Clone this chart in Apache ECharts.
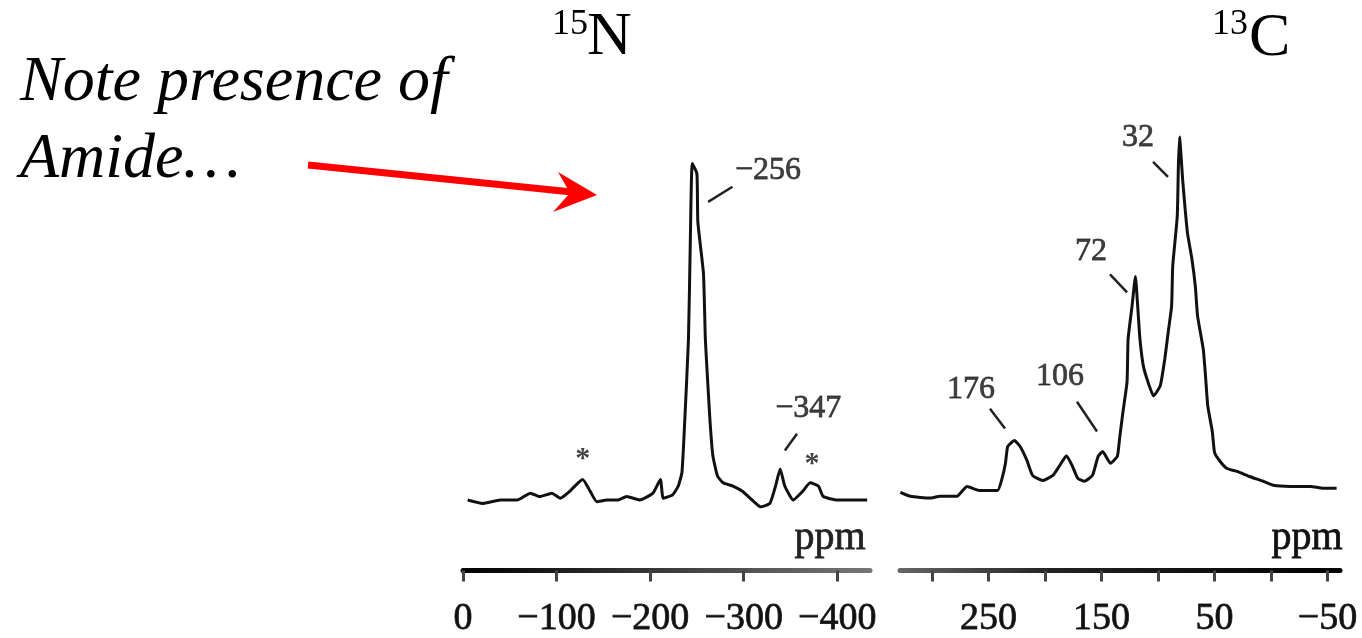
<!DOCTYPE html>
<html>
<head>
<meta charset="utf-8">
<script src="https://cdn.jsdelivr.net/npm/echarts@6/dist/echarts.min.js"></script>
<style>
html,body{margin:0;padding:0;background:#fff;}
#main{width:1362px;height:638px;}
</style>
</head>
<body>
<div id="main"></div>
<script>
// 15N spectrum (ppm, relative intensity)
var n15Ppm = [-5,-21,-40,-58,-72,-82,-95,-104,-114,-123,-128,-136,-143,-154,-165,-175,-189,-203,-211,-214,-224,-230,-234,-237,-241,-243,-245,-250,-251,-257,-259,-261,-264,-267,-272,-278,-289,-299,-307,-318,-328,-334,-339,-344,-353,-363,-371,-380,-385,-400,-414,-432];
var n15Int = [1,0,1,1,3,2,3,1.5,3.5,6,7,3.5,0.5,1,1,2,1,3,7,1.5,2.5,5,9,24,48,77,99,96,82,67,48,38,24,14,8,6,5,3.5,1.5,-1,0,5,10,5,1,3.5,6,5,2,1,1,1];
var n15Ticks = [0,-100,-200,-300,-400];

// 13C spectrum
var c13Ppm = [328,319,302,293,278,269,258,242,238,235,233,227,222,216,211,202,193,187,181,176,171,165,158,153,149,142,136,134,131,127.4,126.5,123,120,118,116,113,109,104,98,94,91,88,87,83,82,81,78,74,70,67,65,60,58,56,52,50,45,39,30,19,7,-2,-17,-35,-46,-58];
var c13Int = [1.1,0,-0.5,0,0,2.7,1.6,1.6,4.9,9,13.6,15.2,13.6,9.8,5.7,4.3,5.7,8.4,11.1,8.4,4.9,4.1,5.7,10.9,12.2,9,10.9,15.8,23.1,31.3,42.9,51.9,60,51.9,42.9,35.6,31.3,27.4,30.2,37.5,44.8,51.9,62.8,76.4,90,98.1,85.6,72,64.7,57.3,49.2,40.2,32.9,24.7,17.7,12,9.5,7.6,6.8,5.4,4.1,3,2.7,2.7,2.2,2.2];
var c13Ticks = [300,250,200,150,100,50,0,-50];
var c13TickLabels = [250,150,50,-50];

// peak annotations
var n15LabelText = ['\u2212256','\u2212347'];
var n15LabelPpm = [-326,-369];
var n15LabelInt = [97,27.5];
var n15StarPpm = [-128,-373];
var n15StarInt = [15.4,13.9];
var n15Leaders = [[-262,87.8,-288,92.2],[-344,15.4,-357,20.3]];

var c13LabelText = ['32','72','106','176'];
var c13LabelPpm = [117.7,159.3,186.7,265.5];
var c13LabelInt = [97.8,66.8,32.6,29.1];
var c13Leaders = [[104.4,91.3,91.2,87.2],[142.5,60.6,127.4,55.7],[171.7,25.8,154,17.7],[248.7,23.9,235.4,18.5]];

var serif = '"Liberation Serif", "Times New Roman", serif';

function pairs(xs, ys){
	var out = [];
	for(var i=0;i<xs.length;i++){
		out.push([xs[i], ys[i]]);
	}
	return out;
}

function named(xs, ys, names){
	var out = [];
	for(var i=0;i<xs.length;i++){
		out.push({value:[xs[i], ys[i]], name:names[i]});
	}
	return out;
}

function leaders(arr){
	return arr.map(function(l){
		return [{coord:[l[0], l[1]]}, {coord:[l[2], l[3]]}];
	});
}

function minus(v){
	return String(v).replace('-', '\u2212');
}

function axis(idx, min, max, ticks, labels, grad){
	return {
		gridIndex: idx,
		type: 'value',
		inverse: true,
		min: min,
		max: max,
		position: 'bottom',
		offset: idx == 0 ? 50 : 56,
		axisLine: {onZero: false, lineStyle: {color: grad, width: 5}},
		axisTick: {customValues: ticks, length: 11, lineStyle: {color: '#444', width: 3}},
		axisLabel: {customValues: labels, margin: 29, fontSize: 38, fontFamily: serif, color: '#111',
			textBorderColor: '#333', textBorderWidth: 0.8, formatter: minus},
		splitLine: {show: false}
	};
}

var chart = echarts.init(document.getElementById('main'));

var leftGrad = new echarts.graphic.LinearGradient(0, 0, 1, 0, [{offset:0, color:'#000'}, {offset:1, color:'#777'}]);
var rightGrad = new echarts.graphic.LinearGradient(0, 0, 1, 0, [{offset:0, color:'#666'}, {offset:0.35, color:'#222'}, {offset:1, color:'#000'}]);

var peakLabel = {show: true, position: 'inside', formatter: '{b}', fontSize: 32, fontFamily: serif, color: '#111',
	textBorderColor: '#333', textBorderWidth: 0.8};

var option = {
	animation: false,
	grid: [
		{left: 463, width: 407, top: 160, bottom: 116},
		{left: 900, right: 22, top: 130, bottom: 122}
	],
	xAxis: [
		axis(0, -435, 0, n15Ticks, n15Ticks, leftGrad),
		axis(1, -61, 328.3, c13Ticks, c13TickLabels, rightGrad)
	],
	yAxis: [
		{gridIndex: 0, type: 'value', min: -5, max: 100, show: false},
		{gridIndex: 1, type: 'value', min: -5, max: 100, show: false}
	],
	series: [
		{
			type: 'line', xAxisIndex: 0, yAxisIndex: 0,
			data: pairs(n15Ppm, n15Int),
			showSymbol: false, smooth: 0.15,
			lineStyle: {color: '#111', width: 3},
			markLine: {silent: true, symbol: ['none','none'], label: {show: false},
				lineStyle: {color: '#222', width: 2.5, type: 'solid'}, data: leaders(n15Leaders)}
		},
		{
			type: 'line', xAxisIndex: 1, yAxisIndex: 1,
			data: pairs(c13Ppm, c13Int),
			showSymbol: false, smooth: 0.15,
			lineStyle: {color: '#111', width: 3},
			markLine: {silent: true, symbol: ['none','none'], label: {show: false},
				lineStyle: {color: '#222', width: 2.5, type: 'solid'}, data: leaders(c13Leaders)}
		},
		{
			type: 'scatter', xAxisIndex: 0, yAxisIndex: 0, symbolSize: 1,
			itemStyle: {color: 'rgba(0,0,0,0)'},
			data: named(n15LabelPpm, n15LabelInt, n15LabelText),
			label: peakLabel
		},
		{
			type: 'scatter', xAxisIndex: 0, yAxisIndex: 0, symbolSize: 1,
			itemStyle: {color: 'rgba(0,0,0,0)'},
			data: named(n15StarPpm, n15StarInt, ['*','*']),
			label: {show: true, position: 'inside', formatter: '{b}', fontSize: 30, fontWeight: 'bold', fontFamily: serif, color: '#111', offset: [0, 9]}
		},
		{
			type: 'scatter', xAxisIndex: 1, yAxisIndex: 1, symbolSize: 1,
			itemStyle: {color: 'rgba(0,0,0,0)'},
			data: named(c13LabelPpm, c13LabelInt, c13LabelText),
			label: peakLabel
		}
	],
	graphic: [
		{type: 'text', style: {text: 'Note presence of', x: 20, y: 83, font: 'italic 64px ' + serif, fill: '#000', verticalAlign: 'middle'}},
		{type: 'text', style: {text: 'Amide\u2026', x: 20, y: 160, font: 'italic 64px ' + serif, fill: '#000', verticalAlign: 'middle'}},
		{type: 'text', style: {text: '15', x: 552, y: 25, font: '36px ' + serif, fill: '#000', verticalAlign: 'middle'}},
		{type: 'text', style: {text: 'N', x: 587, y: 38, font: '62px ' + serif, fill: '#000', verticalAlign: 'middle'}},
		{type: 'text', style: {text: '13', x: 1212, y: 25, font: '36px ' + serif, fill: '#000', verticalAlign: 'middle'}},
		{type: 'text', style: {text: 'C', x: 1249, y: 39, font: '62px ' + serif, fill: '#000', verticalAlign: 'middle'}},
		{type: 'text', style: {text: 'ppm', x: 830, y: 538, font: '40px ' + serif, fill: '#222', stroke: '#333', lineWidth: 0.8, align: 'center', verticalAlign: 'middle'}},
		{type: 'text', style: {text: 'ppm', x: 1307, y: 538, font: '40px ' + serif, fill: '#111', stroke: '#222', lineWidth: 0.8, align: 'center', verticalAlign: 'middle'}},
		{type: 'polyline', shape: {points: [[308,165],[572,192]]}, style: {stroke: '#ff0000', lineWidth: 7}},
		{type: 'polygon', shape: {points: [[597,195],[558,172],[570,193],[553,212]]}, style: {fill: '#ff0000'}}
	]
};

chart.setOption(option);
</script>
</body>
</html>
